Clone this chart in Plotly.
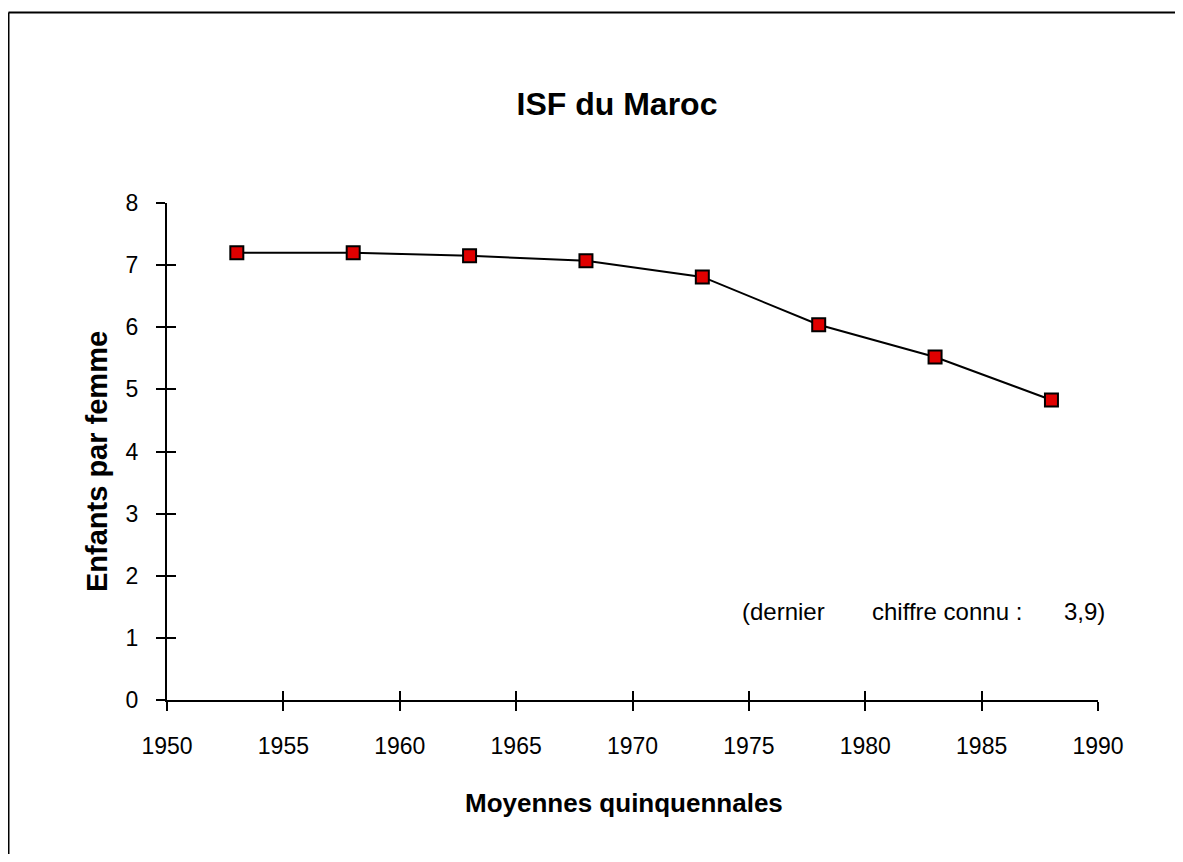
import plotly.graph_objects as go

years = [1953, 1958, 1963, 1968, 1973, 1978, 1983, 1988]
isf = [7.2, 7.2, 7.15, 7.07, 6.81, 6.04, 5.52, 4.83]
x_ticks = [1950, 1955, 1960, 1965, 1970, 1975, 1980, 1985, 1990]
y_ticks = [0, 1, 2, 3, 4, 5, 6, 7, 8]

# page offset (body margin) compensation
OFF = 8
W, H = 1183 - OFF, 862 - 2 * OFF
L, R, T, B = 167 - OFF, 1098 - OFF, 203 - OFF, 700 - OFF
pw, ph = R - L, B - T

def px_x(x):
    return (x - OFF - L) / pw

def px_y(y):
    return (B - (y - OFF)) / ph

FONT = "Liberation Sans, Arial, sans-serif"

fig = go.Figure()
fig.add_trace(go.Scatter(
    x=years, y=isf, mode="lines+markers",
    line=dict(color="black", width=2),
    marker=dict(symbol="square", size=13, color="#e00000",
                line=dict(color="black", width=2)),
    cliponaxis=False, showlegend=False, hoverinfo="x+y",
))
# invisible trace for overlay axes (inside ticks -> crossing ticks)
fig.add_trace(go.Scatter(x=[years[0]], y=[isf[0]], xaxis="x2", yaxis="y2",
                         mode="markers", marker=dict(opacity=0),
                         showlegend=False, hoverinfo="skip"))

axis_common = dict(showgrid=False, zeroline=False, ticks="outside", ticklen=9,
                   tickwidth=2, tickcolor="black", linecolor="black", linewidth=2,
                   showline=True, tickfont=dict(family=FONT, size=23, color="black"))

fig.update_layout(
    width=W, height=H,
    margin=dict(l=L, r=W - R, t=T, b=H - B),
    paper_bgcolor="white", plot_bgcolor="white",
    showlegend=False,
    title=dict(text="<b>ISF du Maroc</b>", x=(617 - OFF) / W, xanchor="center",
               y=1 - (104 - OFF) / H, yanchor="middle", yref="container",
               font=dict(family=FONT, size=32, color="black")),
    xaxis=dict(range=[1950, 1990], tickvals=x_ticks,
               ticktext=[str(v) for v in x_ticks],
               ticklabelstandoff=15, **axis_common),
    yaxis=dict(range=[0, 8], tickvals=y_ticks,
               ticktext=[str(v) for v in y_ticks],
               ticklabelstandoff=13, **axis_common),
    xaxis2=dict(range=[1950, 1990], tickvals=x_ticks, overlaying="x", anchor="y",
                showgrid=False, zeroline=False, showline=False, ticks="inside",
                ticklen=9, tickwidth=2, tickcolor="black", showticklabels=False),
    yaxis2=dict(range=[0, 8], tickvals=y_ticks, overlaying="y", anchor="x",
                side="left", showgrid=False, zeroline=False, showline=False,
                ticks="inside", ticklen=9, tickwidth=2, tickcolor="black",
                showticklabels=False),
)

fig.add_annotation(text="<b>Moyennes quinquennales</b>", xref="paper", yref="paper",
                   x=px_x(624), y=px_y(803), xanchor="center", yanchor="middle",
                   showarrow=False, font=dict(family=FONT, size=26, color="black"))
fig.add_annotation(text="<b>Enfants par femme</b>", xref="paper", yref="paper",
                   x=px_x(97), y=px_y(462), xanchor="center", yanchor="middle",
                   textangle=-90, showarrow=False,
                   font=dict(family=FONT, size=29, color="black"))

note_parts = ["(dernier", "chiffre connu :", "3,9)"]
note_left_px = [740, 870, 1062]
for part, xl in zip(note_parts, note_left_px):
    fig.add_annotation(text=part, xref="paper", yref="paper",
                       x=px_x(xl), y=px_y(611), xanchor="left", yanchor="middle",
                       showarrow=False, font=dict(family=FONT, size=24, color="black"))

# figure frame: only left and top edges are visible in the page
fig.add_shape(type="line", xref="paper", yref="paper",
              x0=px_x(8.5), x1=px_x(8.5), y0=px_y(862), y1=px_y(12.5),
              line=dict(color="black", width=2))
fig.add_shape(type="line", xref="paper", yref="paper",
              x0=px_x(8.5), x1=px_x(1183), y0=px_y(12.5), y1=px_y(12.5),
              line=dict(color="black", width=2))

fig.write_html("out.html")
